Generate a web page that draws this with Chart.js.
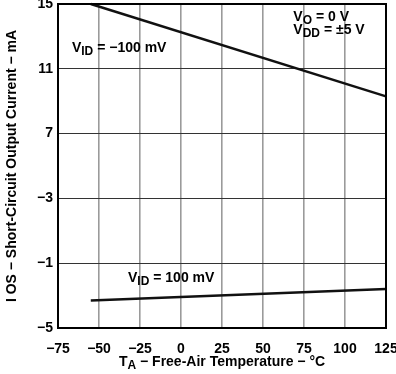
<!DOCTYPE html>
<html><head><meta charset="utf-8">
<script src="https://cdn.jsdelivr.net/npm/chart.js@4/dist/chart.umd.min.js"></script>
<style>html,body{margin:0;padding:0;background:#fff}#wrap{width:396px;height:374px}</style>
</head><body><div id="wrap"><canvas id="c" width="396" height="374"></canvas></div>
<script>
const temperatures = [-55, 125];
const iosNeg100mV = [15.0, 9.3];
const iosPos100mV = [-3.3, -2.6];
const xTicks = [-75, -50, -25, 0, 25, 50, 75, 100, 125];
const yTickValues = [-5, -1, 3, 7, 11, 15];
const yTickLabels = ['\u22125', '\u22121', '\u22123', '7', '11', '15'];

const FONT = '"Liberation Sans", Arial, sans-serif';

function pts(xs, ys){ return xs.map((x,i)=>({x:x, y:ys[i]})); }

function drawSub(ctx, parts, x, y, align){
  const big = 'bold 14px ' + FONT, small = 'bold 12px ' + FONT;
  let w = 0;
  parts.forEach(p=>{ ctx.font = p[1]?small:big; w += ctx.measureText(p[0]).width; });
  let cx = align==='center' ? x - w/2 : x;
  ctx.textAlign = 'left'; ctx.textBaseline = 'middle';
  parts.forEach(p=>{
    ctx.font = p[1]?small:big;
    ctx.fillText(p[0], cx, y + (p[1]?4:0));
    cx += ctx.measureText(p[0]).width;
  });
}

const labels = {
  id: 'labels',
  afterDraw(chart){
    const ctx = chart.ctx, xs = chart.scales.x, ys = chart.scales.y, ca = chart.chartArea;
    ctx.save();
    ctx.fillStyle = '#000';
    drawSub(ctx, [['V',0],['ID',1],[' = \u2212100 mV',0]], xs.getPixelForValue(-66.5), ys.getPixelForValue(12.3), 'left');
    drawSub(ctx, [['V',0],['O',1],[' = 0 V',0]], xs.getPixelForValue(68.5), ys.getPixelForValue(14.2), 'left');
    drawSub(ctx, [['V',0],['DD',1],[' = \u00b15 V',0]], xs.getPixelForValue(68.5), ys.getPixelForValue(13.4), 'left');
    drawSub(ctx, [['V',0],['ID',1],[' = 100 mV',0]], xs.getPixelForValue(-32.3), ys.getPixelForValue(-1.9), 'left');
    drawSub(ctx, [['T',0],['A',1],[' \u2212 Free-Air Temperature \u2212 \u00b0C',0]], (ca.left+ca.right)/2, 362, 'center');
    ctx.translate(12, (ca.top+ca.bottom)/2);
    ctx.rotate(-Math.PI/2);
    drawSub(ctx, [['I OS \u2212 Short-Circuit Output Current \u2212 mA',0]], 0, 0, 'center');
    ctx.restore();
  }
};

new Chart(document.getElementById('c'), {
  type: 'scatter',
  data: { datasets: [
    { data: pts(temperatures, iosNeg100mV), showLine: true, borderColor: '#111', borderWidth: 2.5, pointRadius: 0, clip: false },
    { data: pts(temperatures, iosPos100mV), showLine: true, borderColor: '#111', borderWidth: 2.5, pointRadius: 0, clip: false }
  ]},
  options: {
    responsive: false, animation: false, devicePixelRatio: 1,
    layout: { padding: { top: 4, right: 10, left: 0, bottom: 0 } },
    plugins: { legend: { display: false }, tooltip: { enabled: false } },
    scales: {
      x: {
        type: 'linear', min: -75, max: 125,
        afterBuildTicks: s => { s.ticks = xTicks.map(v=>({value:v})); },
        afterFit: s => { s.height = 46; s.paddingLeft = 0; s.paddingRight = 0; },
        grid: { color: '#9a9a9a', lineWidth: 1.6, drawTicks: false },
        border: { color: '#000', width: 2 },
        ticks: { color: '#000', padding: 13, font: { family: FONT, size: 14, weight: 'bold' }, maxRotation: 0,
          callback: v => (v < 0 ? '\u2212' + Math.abs(v) : String(v)) }
      },
      y: {
        type: 'linear', min: -5, max: 15,
        afterBuildTicks: s => { s.ticks = yTickValues.map(v=>({value:v})); },
        afterFit: s => { s.width = 58; s.paddingTop = 0; s.paddingBottom = 0; },
        grid: { color: '#333', lineWidth: 1, drawTicks: false },
        border: { color: '#000', width: 2 },
        ticks: { color: '#000', padding: 5, font: { family: FONT, size: 14, weight: 'bold' },
          callback: (v) => { const i = yTickValues.indexOf(v); return i >= 0 ? yTickLabels[i] : ''; } }
      }
    }
  },
  plugins: [labels, {
    id: 'frame',
    afterDatasetsDraw(chart){
      const ctx = chart.ctx, ca = chart.chartArea;
      ctx.save(); ctx.strokeStyle = '#000'; ctx.lineWidth = 2;
      ctx.strokeRect(ca.left, ca.top, ca.right-ca.left, ca.bottom-ca.top);
      ctx.restore();
    }
  }]
});
</script></body></html>
